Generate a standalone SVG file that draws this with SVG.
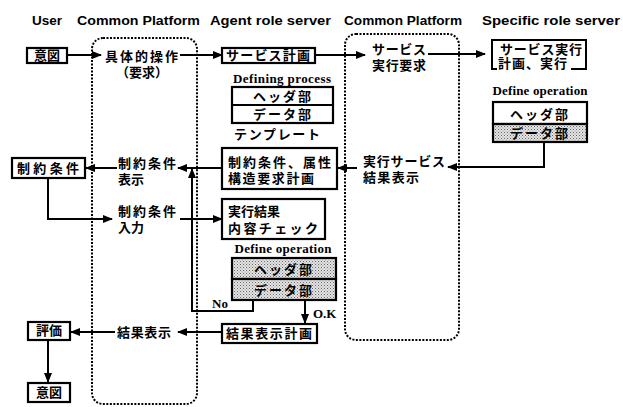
<svg xmlns="http://www.w3.org/2000/svg" width="623" height="407" viewBox="0 0 623 407">
<style>
.hd{font-family:"Liberation Sans",Arial,sans-serif;font-weight:bold;font-size:12px;fill:#000}
.jp{font-family:"Noto Sans CJK JP","Noto Sans",sans-serif;font-weight:bold;font-size:13px;fill:#000}
.sf{font-family:"Liberation Serif","Times New Roman",serif;font-weight:bold;font-size:13px;fill:#000}
.box{fill:#fff;stroke:#000;stroke-width:2.2}
.gbox{fill:url(#dots);stroke:#000;stroke-width:2.2}
.pf{fill:none;stroke:#000;stroke-width:2;stroke-dasharray:2 1.5}
.ln{fill:none;stroke:#000;stroke-width:2}
.ar{fill:none;stroke:#000;stroke-width:2;marker-end:url(#ah)}
</style>
<defs>
<pattern id="dots" width="3" height="3" patternUnits="userSpaceOnUse">
<rect width="3" height="3" fill="#e4e4e4"/>
<rect width="1" height="1" fill="#666"/>
<rect x="1.5" y="1.5" width="1" height="1" fill="#888"/>
</pattern>
<marker id="ah" markerWidth="10" markerHeight="8" refX="9" refY="4" orient="auto" markerUnits="userSpaceOnUse">
<path d="M0,0 L10,4 L0,8 Z" fill="#000"/>
</marker>
</defs>
<rect width="623" height="407" fill="#fff"/>

<g id="headers">
<text class="hd" x="32" y="25" textLength="30" lengthAdjust="spacingAndGlyphs">User</text>
<text class="hd" x="77" y="25" textLength="123" lengthAdjust="spacingAndGlyphs">Common Platform</text>
<text class="hd" x="210" y="25" textLength="121" lengthAdjust="spacingAndGlyphs">Agent role server</text>
<text class="hd" x="344" y="25" textLength="118" lengthAdjust="spacingAndGlyphs">Common Platform</text>
<text class="hd" x="482" y="25" textLength="138" lengthAdjust="spacingAndGlyphs">Specific role server</text>
</g>

<g id="platform1"><rect class="pf" x="92" y="38" width="105" height="366" rx="11"/></g>
<g id="platform2"><rect class="pf" x="345" y="34" width="114" height="306" rx="11"/></g>

<g id="connectors">
<path class="ar" d="M67,55 H101"/>
<path class="ar" d="M180,55 H222"/>
<path class="ar" d="M315,55 H365"/>
<path class="ar" d="M428,54 H485"/>
<path class="ar" d="M544,142 V167 H448"/>
<path class="ar" d="M357,168 H338"/>
<path class="ar" d="M222,168 H178"/>
<path class="ar" d="M117,168 H86"/>
<path class="ar" d="M48,179 V219 H112"/>
<path class="ar" d="M180,219 H222"/>
<path class="ar" d="M253,300 V311 H192 V169"/>
<path class="ar" d="M305,300 V323"/>
<path class="ar" d="M222,332 H178"/>
<path class="ar" d="M115,332 H71"/>
<path class="ar" d="M48,340 V382"/>
</g>

<g id="user-intent1">
<rect class="box" x="27" y="48" width="40" height="15"/>
<text class="jp" x="47" y="60" text-anchor="middle" font-size="12">意図</text>
</g>
<g id="cp-operation">
<text class="jp" x="105" y="61" textLength="73" font-size="14">具体的操作</text>
<text class="jp" x="142" y="77" text-anchor="middle">（要求）</text>
</g>
<g id="service-plan">
<rect class="box" x="222" y="48" width="93" height="15"/>
<text class="jp" x="268" y="60" text-anchor="middle" textLength="84">サービス計画</text>
</g>
<g id="defining-process">
<text class="sf" x="282" y="83" text-anchor="middle" textLength="98">Defining process</text>
<rect class="box" x="232" y="87" width="101" height="36"/>
<line class="ln" x1="232" y1="105" x2="333" y2="105"/>
<text class="jp" x="283" y="101" text-anchor="middle" letter-spacing="2">ヘッダ部</text>
<text class="jp" x="283" y="119" text-anchor="middle" letter-spacing="2">データ部</text>
<text class="jp" x="277" y="139" text-anchor="middle" textLength="86">テンプレート</text>
</g>
<g id="service-request">
<text class="jp" x="372" y="54" textLength="54">サービス</text>
<text class="jp" x="372" y="70" textLength="54">実行要求</text>
</g>
<g id="service-exec">
<path class="ln" stroke-width="2.2" d="M497,69 H492 V40 H586 V69 H571"/>
<text class="jp" x="500" y="54" textLength="82">サービス実行</text>
<text class="jp" x="498" y="68" textLength="69">計画、実行</text>
</g>
<g id="define-operation-right">
<text class="sf" x="540" y="95" text-anchor="middle" textLength="95">Define operation</text>
<rect class="box" x="493" y="102" width="94" height="22"/>
<rect class="gbox" x="493" y="124" width="94" height="18"/>
<text class="jp" x="540" y="119" text-anchor="middle" letter-spacing="2">ヘッダ部</text>
<text class="jp" x="540" y="138" text-anchor="middle" letter-spacing="2">データ部</text>
</g>
<g id="result-display-req">
<text class="jp" x="363" y="166" textLength="82">実行サービス</text>
<text class="jp" x="363" y="182" textLength="56">結果表示</text>
</g>
<g id="constraint-plan">
<rect class="box" x="222" y="148" width="115" height="41"/>
<text class="jp" x="228" y="167" textLength="103">制約条件、属性</text>
<text class="jp" x="228" y="183" textLength="86">構造要求計画</text>
</g>
<g id="constraint-display">
<text class="jp" x="118" y="168" textLength="58">制約条件</text>
<text class="jp" x="118" y="184">表示</text>
</g>
<g id="user-constraint">
<rect class="box" x="12" y="158" width="73" height="20"/>
<text class="jp" x="48" y="173" text-anchor="middle" textLength="62">制約条件</text>
</g>
<g id="constraint-input">
<text class="jp" x="118" y="216" textLength="58">制約条件</text>
<text class="jp" x="118" y="232">入力</text>
</g>
<g id="result-check">
<rect class="box" x="222" y="199" width="103" height="40"/>
<text class="jp" x="228" y="216">実行結果</text>
<text class="jp" x="228" y="233" textLength="90">内容チェック</text>
</g>
<g id="define-operation-agent">
<text class="sf" x="283" y="253" text-anchor="middle" textLength="97">Define operation</text>
<rect class="gbox" x="232" y="258" width="104" height="21"/>
<rect class="gbox" x="232" y="279" width="104" height="21"/>
<text class="jp" x="284" y="274" text-anchor="middle" letter-spacing="2">ヘッダ部</text>
<text class="jp" x="284" y="295" text-anchor="middle" letter-spacing="2">データ部</text>
<text class="sf" x="212" y="308">No</text>
<text class="sf" x="313" y="318">O.K</text>
</g>
<g id="result-plan">
<rect class="box" x="222" y="324" width="95" height="19"/>
<text class="jp" x="269" y="338" text-anchor="middle" textLength="86">結果表示計画</text>
</g>
<g id="result-display">
<text class="jp" x="117" y="337" textLength="54">結果表示</text>
</g>
<g id="user-evaluate">
<rect class="box" x="28" y="322" width="42" height="18"/>
<text class="jp" x="49" y="335" text-anchor="middle" font-size="12">評価</text>
</g>
<g id="user-intent2">
<rect class="box" x="28" y="383" width="42" height="19"/>
<text class="jp" x="49" y="397" text-anchor="middle" font-size="12">意図</text>
</g>
</svg>
